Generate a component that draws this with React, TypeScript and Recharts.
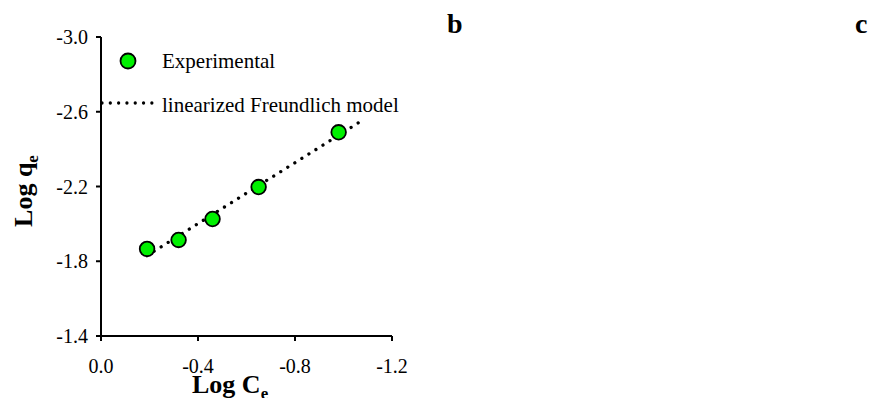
import React from 'react';
import { ComposedChart, Scatter, Line, XAxis, YAxis, Label } from 'recharts';

// experimental points
const logCe = [-0.19, -0.32, -0.46, -0.65, -0.98];
const logQe = [-1.866, -1.914, -2.026, -2.197, -2.49];

// linearized Freundlich fit, endpoints
const fitCe = [-0.19, -1.085];
const fitQe = [-1.83, -2.56];

const xTicks = [0, -0.4, -0.8, -1.2];
const yTicks = [-3.0, -2.6, -2.2, -1.8, -1.4];

const seriesNames = ['Experimental', 'linearized Freundlich model'];
const panelLetters = ['b', 'c'];

const FONT = '"Liberation Serif", "Times New Roman", serif';
const GREEN = '#00f000';

const expData = logCe.map((x, i) => ({ x, y: logQe[i] }));
const fitData = fitCe.map((x, i) => ({ x, y: fitQe[i] }));

const fmt = (v: number) => v.toFixed(1);

export default function App() {
  const axisStyle = { stroke: '#000', strokeWidth: 2 };
  const tickStyle = { fill: '#000', fontSize: 20, fontFamily: FONT };

  return (
    <div style={{ position: 'absolute', left: 0, top: 0, width: 870, height: 398, background: '#fff' }}>
      <ComposedChart
        width={870}
        height={398}
        margin={{ top: 37, right: 478, bottom: 32, left: 41 }}
      >
        <XAxis
          type="number"
          dataKey="x"
          domain={[-1.2, 0]}
          reversed
          ticks={xTicks}
          tickFormatter={fmt}
          axisLine={axisStyle}
          tickLine={axisStyle}
          tickSize={5}
          tickMargin={18}
          tick={tickStyle}
          height={30}
          interval={0}
        >
          <Label
            content={(props: any) => {
              const vb = props.viewBox;
              return (
                <text x={vb.x + 91} y={393} fontFamily={FONT} fontSize={26} fontWeight="bold" fill="#000">
                  Log C
                  <tspan fontSize={17} dy={6}>e</tspan>
                </text>
              );
            }}
          />
        </XAxis>
        <YAxis
          type="number"
          dataKey="y"
          domain={[-3.0, -1.4]}
          reversed
          ticks={yTicks}
          tickFormatter={fmt}
          axisLine={axisStyle}
          tickLine={axisStyle}
          tickSize={5}
          tickMargin={8}
          tick={tickStyle}
          width={60}
          interval={0}
        >
          <Label
            content={() => (
              <text
                x={32}
                y={191}
                transform="rotate(-90 32 191)"
                textAnchor="middle"
                fontFamily={FONT}
                fontSize={26}
                fontWeight="bold"
                fill="#000"
              >
                Log q
                <tspan fontSize={17} dy={6}>e</tspan>
              </text>
            )}
          />
        </YAxis>
        <Line
          data={fitData}
          dataKey="y"
          stroke="#000"
          strokeWidth={3.3}
          strokeDasharray="0.01 8.3"
          strokeLinecap="round"
          dot={false}
          activeDot={false}
          isAnimationActive={false}
          legendType="none"
        />
        <Scatter
          data={expData}
          dataKey="y"
          isAnimationActive={false}
          shape={(p: any) => (
            <circle cx={p.cx} cy={p.cy} r={7.3} fill={GREEN} stroke="#000" strokeWidth={1.8} />
          )}
        />
      </ComposedChart>

      <svg
        width={870}
        height={398}
        style={{ position: 'absolute', left: 0, top: 0, pointerEvents: 'none' }}
      >
        <circle cx={128} cy={61} r={7.5} fill={GREEN} stroke="#000" strokeWidth={1.8} />
        <text x={162} y={68} fontFamily={FONT} fontSize={21} fill="#000">
          {seriesNames[0]}
        </text>
        <line
          x1={102}
          y1={103}
          x2={152}
          y2={103}
          stroke="#000"
          strokeWidth={3.3}
          strokeDasharray="0.01 8.3"
          strokeLinecap="round"
        />
        <text x={162} y={112} fontFamily={FONT} fontSize={21} fill="#000">
          {seriesNames[1]}
        </text>
        <text x={447} y={33} fontFamily={FONT} fontSize={28} fontWeight="bold" fill="#000">
          {panelLetters[0]}
        </text>
        <text x={855} y={33} fontFamily={FONT} fontSize={28} fontWeight="bold" fill="#000">
          {panelLetters[1]}
        </text>
      </svg>
    </div>
  );
}
